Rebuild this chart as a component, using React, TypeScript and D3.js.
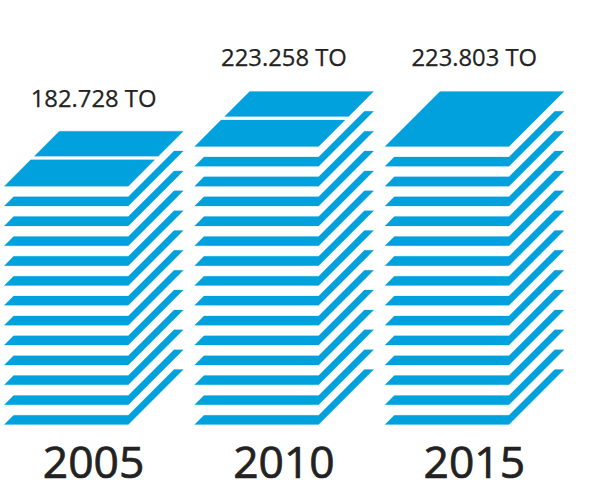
import React from "react";
import * as d3 from "d3";

const years = ["2005", "2010", "2015"];
const totals = ["182.728 TO", "223.258 TO", "223.803 TO"];
const sheetCounts = [13, 15, 15];
const topSplit = [true, true, false];

const W = 600, H = 480;
const BLUE = "#00a1dc";
const INK = "#222222";
const sheetW = 124;
const depth = 55;
const strip = 9.3;
const labelGap = [24, 25.4, 25.4];

const x = d3.scaleLinear().domain([0, 2]).range([4.3, 385]);
const y = d3.scaleLinear().domain([0, 14]).range([424.6, 146.4]);
const path = d3.line<[number, number]>().curve(d3.curveLinearClosed);

function stripPath(x0: number, yf: number) {
  const k = strip;
  return path([
    [x0, yf],
    [x0 + sheetW, yf],
    [x0 + sheetW + depth, yf - depth],
    [x0 + sheetW + depth - k, yf - depth],
    [x0 + sheetW, yf - k],
    [x0 + k, yf - k],
  ]) as string;
}

function topPath(x0: number, yf: number, from: number, to: number) {
  return path([
    [x0 + from, yf - from],
    [x0 + from + sheetW, yf - from],
    [x0 + to + sheetW, yf - to],
    [x0 + to, yf - to],
  ]) as string;
}

export default function App() {
  return (
    <svg width={W} height={H} viewBox={`0 0 ${W} ${H}`} style={{ position: "absolute", left: 0, top: 0 }}>
      <rect width={W} height={H} fill="#fff" />
      {years.map((yr, i) => {
        const x0 = x(i);
        const n = sheetCounts[i];
        const yTop = y(n - 1);
        const cx = x0 + 89.3;
        return (
          <g key={yr}>
            <g fill={BLUE} stroke={BLUE} strokeOpacity={0.4} strokeWidth={0.6}>
              {d3.range(n - 1).map((s) => (
                <path key={s} d={stripPath(x0, y(s))} />
              ))}
              {topSplit[i] ? (
                <>
                  <path d={topPath(x0, yTop, 0, 26.4)} />
                  <path d={topPath(x0, yTop, 30, depth)} />
                </>
              ) : (
                <path d={topPath(x0, yTop, 0, depth)} />
              )}
            </g>
            <text x={cx} y={yTop - depth - labelGap[i]} textAnchor="middle" fontFamily="'Open Sans'" fontSize={23.8} fontWeight={500} stroke={INK} strokeWidth={0.25} fill={INK}>
              {totals[i]}
            </text>
            <text x={cx} y={478.3} textAnchor="middle" fontFamily="'Open Sans'" fontSize={44.4} fontWeight={500} stroke={INK} strokeWidth={0.7} fill={INK}>
              {yr}
            </text>
          </g>
        );
      })}
    </svg>
  );
}
